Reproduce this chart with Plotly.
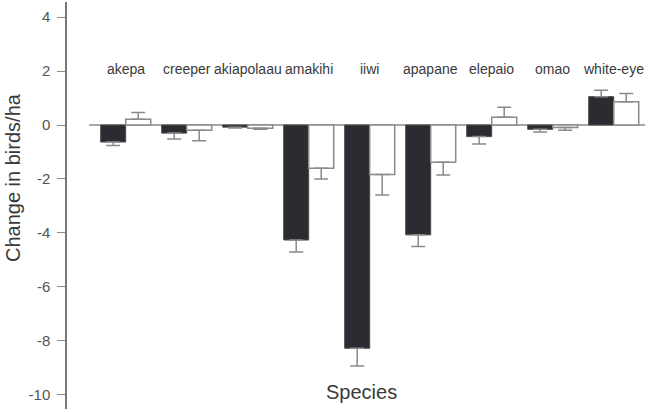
import plotly.graph_objects as go

categories = ["akepa", "creeper", "akiapolaau", "amakihi", "iiwi",
              "apapane", "elepaio", "omao", "white-eye"]
dark_vals = [-0.63, -0.30, -0.08, -4.26, -8.27, -4.07, -0.43, -0.16, 1.05]
dark_err = [0.13, 0.22, 0.03, 0.44, 0.66, 0.43, 0.27, 0.10, 0.24]
light_vals = [0.21, -0.19, -0.12, -1.60, -1.83, -1.38, 0.29, -0.09, 0.86]
light_err = [0.25, 0.39, 0.04, 0.40, 0.76, 0.47, 0.37, 0.10, 0.31]
y_ticks = [-10, -8, -6, -4, -2, 0, 2, 4]
y_tick_labels = ["-10", "-8", "-6", "-4", "-2", "0", "2", "4"]

FONT = "Liberation Sans, Arial, sans-serif"
GRAY = "#8a8a8a"
DARK = "#2b2c31"


def one_sided(vals, errs):
    plus = [e if v >= 0 else 0 for v, e in zip(vals, errs)]
    minus = [e if v < 0 else 0 for v, e in zip(vals, errs)]
    return plus, minus


dp, dm = one_sided(dark_vals, dark_err)
lp, lm = one_sided(light_vals, light_err)

fig = go.Figure()
fig.add_trace(go.Bar(
    x=categories, y=dark_vals,
    marker=dict(color=DARK, line=dict(color="#4a4a4a", width=1)),
    error_y=dict(type="data", symmetric=False, array=dp, arrayminus=dm,
                 color=GRAY, thickness=1.5, width=7),
    showlegend=False,
))
fig.add_trace(go.Bar(
    x=categories, y=light_vals,
    marker=dict(color="white", line=dict(color=GRAY, width=1.5)),
    error_y=dict(type="data", symmetric=False, array=lp, arrayminus=lm,
                 color=GRAY, thickness=1.5, width=7),
    showlegend=False,
))

# zero baseline
fig.add_shape(type="line", xref="x", yref="y", x0=-0.6, x1=8.52, y0=0, y1=0,
              line=dict(color=GRAY, width=1.5), layer="below")

annotations = []
for i, c in enumerate(categories):
    annotations.append(dict(x=i, y=2.07, xref="x", yref="y", text=c,
                            showarrow=False, font=dict(size=14, color="#3a3a3a", family=FONT)))
annotations.append(dict(x=0.509, y=-9.89, xref="paper", yref="y", text="Species",
                        showarrow=False, font=dict(size=20, color="#3a3a3a", family=FONT)))
annotations.append(dict(x=-0.0934, y=0.5676, xref="paper", yref="paper",
                        text="Change in birds/ha", textangle=-90, showarrow=False,
                        xanchor="center", yanchor="middle",
                        font=dict(size=20, color="#3a3a3a", family=FONT)))

fig.update_layout(
    width=648, height=412,
    margin=dict(l=67, r=3, t=2, b=3),
    paper_bgcolor="white", plot_bgcolor="white",
    barmode="group", bargap=0.18, bargroupgap=0,
    font=dict(family=FONT),
    annotations=annotations,
    xaxis=dict(range=[-0.962, 8.513], showticklabels=False, showline=False,
               showgrid=False, zeroline=False, ticks=""),
    yaxis=dict(range=[-10.52, 4.556], tickvals=y_ticks, ticktext=y_tick_labels,
               ticks="outside", ticklen=8, tickwidth=1, tickcolor=GRAY,
               ticklabelstandoff=4, showline=True,
               linecolor="#777777", linewidth=1.5, showgrid=False, zeroline=False,
               tickfont=dict(size=15, color="#555555", family=FONT)),
)

fig.write_html("out.html")
